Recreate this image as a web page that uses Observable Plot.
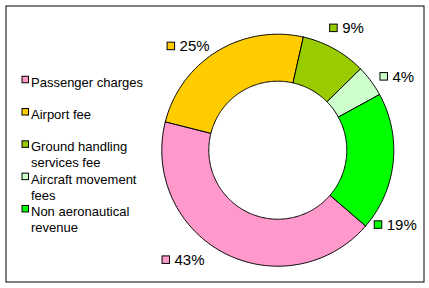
<!DOCTYPE html>
<html><head><meta charset="utf-8">
<script src="https://cdn.jsdelivr.net/npm/d3@7"></script>
<script src="https://cdn.jsdelivr.net/npm/@observablehq/plot@0.6"></script>
<style>
html,body{margin:0;padding:0;background:#fff;}
</style></head><body><div id="chart"></div>
<script>
// ---- data ----
const categories = ["Passenger charges", "Airport fee", "Ground handling services fee", "Aircraft movement fees", "Non aeronautical revenue"];
const shares = [42.6, 24.6, 9.1, 4.4, 19.3];
const percentLabels = ["43%", "25%", "9%", "4%", "19%"];
const palette = ["#FF99CC", "#FFCC00", "#99CC00", "#CCFFCC", "#00FF00"];

// ---- layout ----
const W = 429, H = 288;
const cx = 277.3, cy = 149.7, R = 116, r0 = 69;
const startAngle = 130.8;               // first slice starts here (deg, clockwise from 12 o'clock)
const labelTurn = [13.2, -9.2, 0.4, 5, 26.4];   // data labels were dragged off their slice centres
const labelDist = [145, 137, 140, 140, 139.5];
const legendX = 22, legendTop = 79.5, legendStep = 32.3;
const FONT = "'Liberation Sans', Arial, sans-serif";

const total = d3.sum(shares);
let acc = startAngle;
const slices = shares.map((v, i) => {
  const a0 = acc, a1 = acc + v / total * 360; acc = a1;
  return {category: categories[i], a0, a1, mid: (a0 + a1) / 2, label: percentLabels[i]};
});
const rad = d => d * Math.PI / 180;
const px = (rr, a) => cx + rr * Math.sin(rad(a));
const py = (rr, a) => cy - rr * Math.cos(rad(a));

const ring = slices.flatMap(s => {
  const n = Math.max(2, Math.ceil(s.a1 - s.a0));
  const pts = [];
  for (let k = 0; k <= n; k++) { const a = s.a0 + (s.a1 - s.a0) * k / n; pts.push({category: s.category, x: px(R, a), y: py(R, a)}); }
  for (let k = n; k >= 0; k--) { const a = s.a0 + (s.a1 - s.a0) * k / n; pts.push({category: s.category, x: px(r0, a), y: py(r0, a)}); }
  pts.push({...pts[0]});
  return pts;
});

const ctx = document.createElement("canvas").getContext("2d");
ctx.font = "15px 'Liberation Sans'";
const sq = 7.5, gap = 4;
const labels = slices.map((s, i) => {
  const a = s.mid + labelTurn[i];
  const bx = px(labelDist[i], a), by = py(labelDist[i], a);
  const tw = ctx.measureText(s.label).width;
  const w = sq + 1 + gap + tw;
  const left = bx - w / 2;
  return {category: s.category, label: s.label,
    x1: left + 0.5, x2: left + 0.5 + sq, y1: by - sq / 2, y2: by + sq / 2,
    tx: left + sq + 1 + gap, ty: by};
});

const legend = categories.map((c, i) => ({category: c, y: legendTop + i * legendStep}));

const chart = Plot.plot({
  width: W, height: H,
  marginLeft: 5.5, marginTop: 5.5, marginRight: 5.5, marginBottom: 6.5,
  x: {domain: [0, W], range: [0, W], axis: null},
  y: {domain: [0, H], range: [0, H], axis: null},
  color: {domain: categories, range: palette},
  style: {fontFamily: FONT, background: "white", color: "black"},
  marks: [
    Plot.frame({stroke: "black", strokeWidth: 1}),
    Plot.line(ring, {x: "x", y: "y", z: "category", fill: "category", stroke: "black", strokeWidth: 1, curve: "linear"}),
    Plot.rect(labels, {x1: "x1", x2: "x2", y1: "y1", y2: "y2", fill: "category", stroke: "black", strokeWidth: 1}),
    Plot.text(labels, {x: "tx", y: "ty", text: "label", textAnchor: "start", fontSize: 15, fill: "black"}),
    Plot.rect(legend, {x1: d => legendX, x2: d => legendX + 6.5, y1: d => d.y - 3.25, y2: d => d.y + 3.25, fill: "category", stroke: "black", strokeWidth: 1}),
    Plot.text(legend, {x: d => legendX + 8.5, y: d => d.y - 4.7, text: "category", textAnchor: "start", lineAnchor: "top", lineWidth: 9.5, lineHeight: 1.23, fontSize: 13, fill: "black"})
  ]
});
document.getElementById("chart").appendChild(chart);
</script></body></html>
